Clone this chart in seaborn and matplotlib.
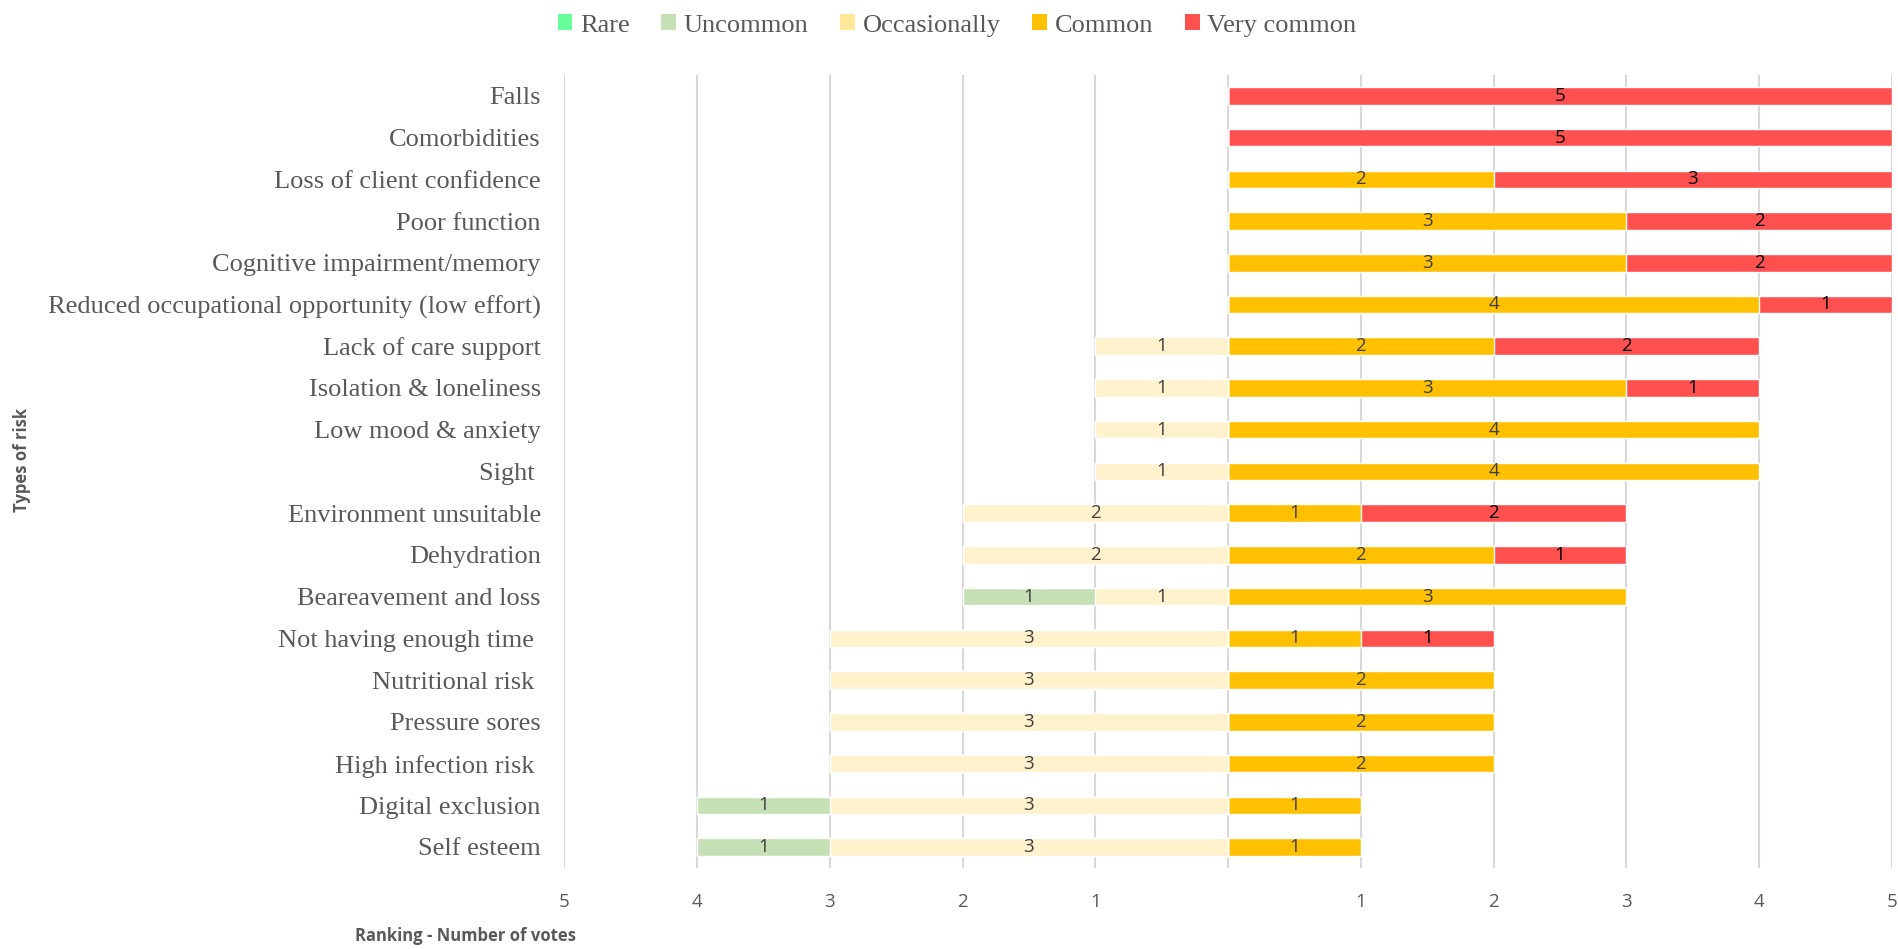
import matplotlib
matplotlib.use("Agg")
import matplotlib.pyplot as plt
from matplotlib.patches import Patch
import seaborn as sns
import numpy as np

categories = ["Falls", "Comorbidities", "Loss of client confidence", "Poor function",
              "Cognitive impairment/memory", "Reduced occupational opportunity (low effort)",
              "Lack of care support", "Isolation & loneliness", "Low mood & anxiety", "Sight ",
              "Environment unsuitable", "Dehydration", "Beareavement and loss",
              "Not having enough time ", "Nutritional risk ", "Pressure sores",
              "High infection risk ", "Digital exclusion", "Self esteem"]
rare         = [0, 0, 0, 0, 0, 0, 0, 0, 0, 0, 0, 0, 0, 0, 0, 0, 0, 0, 0]
uncommon     = [0, 0, 0, 0, 0, 0, 0, 0, 0, 0, 0, 0, 1, 0, 0, 0, 0, 1, 1]
occasionally = [0, 0, 0, 0, 0, 0, 1, 1, 1, 1, 2, 2, 1, 3, 3, 3, 3, 3, 3]
common       = [0, 0, 2, 3, 3, 4, 2, 3, 4, 4, 1, 2, 3, 1, 2, 2, 2, 1, 1]
very_common  = [5, 5, 3, 2, 2, 1, 2, 1, 0, 0, 2, 1, 0, 1, 0, 0, 0, 0, 0]
series_names = ["Rare", "Uncommon", "Occasionally", "Common", "Very common"]
tick_values = [-5, -4, -3, -2, -1, 0, 1, 2, 3, 4, 5]
tick_labels = ["5", "4", "3", "2", "1", "", "1", "2", "3", "4", "5"]

bar_colors = {"Rare": "#66FF99", "Uncommon": "#C5E0B4", "Occasionally": "#FFF2CC",
              "Common": "#FFC000", "Very common": "#FF5050"}
legend_colors = {"Rare": "#66FF99", "Uncommon": "#C5E0B4", "Occasionally": "#FFE699",
                 "Common": "#FFC000", "Very common": "#FF5050"}

sns.set_theme(style="white")
fig = plt.figure(figsize=(18.99, 9.49), dpi=100)
ax = fig.add_axes([0.2972, 0.0855, 0.699, 0.8355])

r = np.array(rare); u = np.array(uncommon); o = np.array(occasionally)
c = np.array(common); v = np.array(very_common)

W = 0.42
# right side (overlapping cumulative bars)
sns.barplot(x=c + v, y=categories, orient="h", color=bar_colors["Very common"], width=W,
            saturation=1, ax=ax, order=categories)
sns.barplot(x=c, y=categories, orient="h", color=bar_colors["Common"], width=W,
            saturation=1, ax=ax, order=categories)
# left side
sns.barplot(x=-(o + u + r), y=categories, orient="h", color=bar_colors["Rare"], width=W,
            saturation=1, ax=ax, order=categories)
sns.barplot(x=-(o + u), y=categories, orient="h", color=bar_colors["Uncommon"], width=W,
            saturation=1, ax=ax, order=categories)
sns.barplot(x=-o, y=categories, orient="h", color=bar_colors["Occasionally"], width=W,
            saturation=1, ax=ax, order=categories)

# segment labels
for i in range(len(categories)):
    segs = [(-(o[i] + u[i] + r[i]), -(o[i] + u[i]), r[i], "#404040"),
            (-(o[i] + u[i]), -o[i], u[i], "#404040"),
            (-o[i], 0, o[i], "#404040"),
            (0, c[i], c[i], "#404040"),
            (c[i], c[i] + v[i], v[i], "#000000")]
    for a, b, val, col in segs:
        if val > 0:
            ax.text((a + b) / 2, i, str(val), ha="center", va="center", fontsize=13.5,
                    color=col, family="Open Sans")

ax.set_xlim(-5, 5)
ax.set_ylim(18.5, -0.5)
ax.set_xticks(tick_values)
ax.set_xticklabels(tick_labels, family="Open Sans", fontsize=13.5, color="#595959")
ax.tick_params(axis="x", length=0, pad=18)
ax.tick_params(axis="y", length=0, pad=17)
for lbl in ax.get_yticklabels():
    lbl.set_family("Liberation Serif")
    lbl.set_fontsize(19)
    lbl.set_color("#595959")
ax.set_xlabel("")
ax.set_ylabel("")
for s in ax.spines.values():
    s.set_visible(False)
ax.set_axisbelow(True)
ax.xaxis.grid(True, color="#D9D9D9", linewidth=1.5)
ax.yaxis.grid(False)

fig.text(0.187, 0.014, "Ranking - Number of votes", ha="left", va="center", fontsize=12,
         fontweight="bold", color="#595959", family="Open Sans")
fig.text(0.0115, 0.515, "Types of risk", ha="center", va="center", rotation=90, fontsize=12,
         fontweight="bold", color="#595959", family="Open Sans")

handles = [Patch(facecolor=legend_colors[n], edgecolor="none", label=n) for n in series_names]
leg = fig.legend(handles=handles, loc="center", bbox_to_anchor=(0.504, 0.973), ncol=5,
                 frameon=False, handlelength=0.55, handleheight=0.55, handletextpad=0.3,
                 columnspacing=1.2, prop={"family": "Liberation Serif", "size": 19})
for t in leg.get_texts():
    t.set_color("#595959")

fig.savefig("out.png", dpi=100)
